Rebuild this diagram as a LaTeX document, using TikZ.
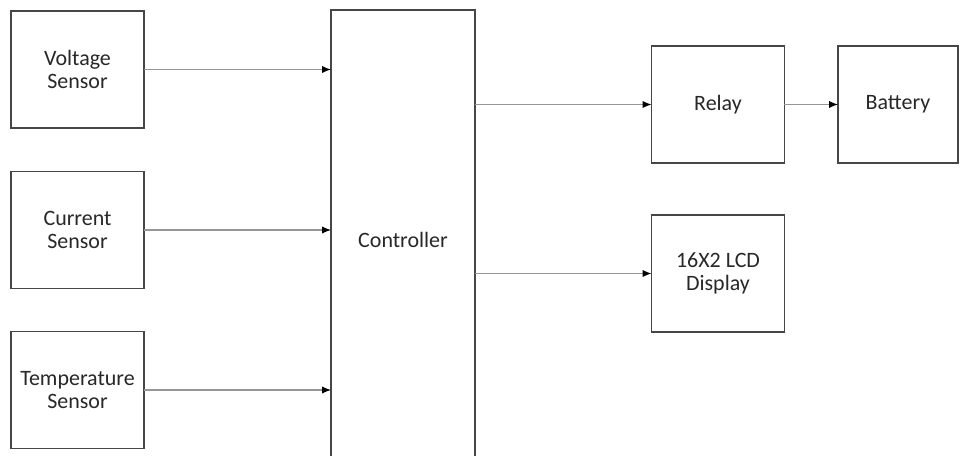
\documentclass[tikz,border=0pt]{standalone}
\usepackage{fontspec}
\setmainfont{Carlito}
\usepackage{xcolor}
\definecolor{boxgray}{RGB}{70,70,70}
\definecolor{linegray}{RGB}{150,150,150}
\definecolor{textgray}{RGB}{40,40,40}
\usepackage{tikz}
\usetikzlibrary{arrows.meta, positioning}

\tikzset{
  blockbox/.style={draw=boxgray, line width=0.7pt, fill=white, inner sep=0pt, outer sep=0pt,
    align=center, text=textgray, font=\fontsize{12.5}{12.8}\selectfont,
    minimum width=2.66cm, minimum height=2.34cm},
  flowarrow/.style={draw=linegray, line width=0.6pt, -{Latex[length=5pt, width=4pt, black]}}
}

\begin{document}
\begin{tikzpicture}[x=0.02cm, y=-0.02cm]
  % Frame of the picture (controller runs off the bottom edge)
  \clip (0,0) rectangle (960,456);

  % --- Sensor blocks ---
  \node[blockbox] (volt) at (77.5,69.5) {Voltage\\Sensor};
  \node[blockbox] (curr) at (77.5,230) {Current\\Sensor};
  \node[blockbox] (temp) at (77.5,390) {Temperature\\Sensor};

  % --- Controller ---
  \node[blockbox, minimum width=2.88cm, minimum height=9.2cm] (ctrl) at (403,240) {Controller};

  % --- Outputs ---
  \node[blockbox] (relay) at (718,104.5) {Relay};
  \node[blockbox, minimum width=2.4cm] (batt) at (898,104.5) {Battery};
  \node[blockbox] (lcd) at (718,273.5) {16X2 LCD\\Display};

  % Sensors into controller
  \draw[flowarrow] (volt.east) -- (volt.east -| ctrl.west);
  \draw[flowarrow] (curr.east) -- (curr.east -| ctrl.west);
  \draw[flowarrow] (temp.east) -- (temp.east -| ctrl.west);

  % Controller out to relay and display
  \draw[flowarrow] (relay.west -| ctrl.east) -- (relay.west);
  \draw[flowarrow] (lcd.west -| ctrl.east) -- (lcd.west);
  \draw[flowarrow] (relay.east) -- (batt.west);
\end{tikzpicture}
\end{document}
